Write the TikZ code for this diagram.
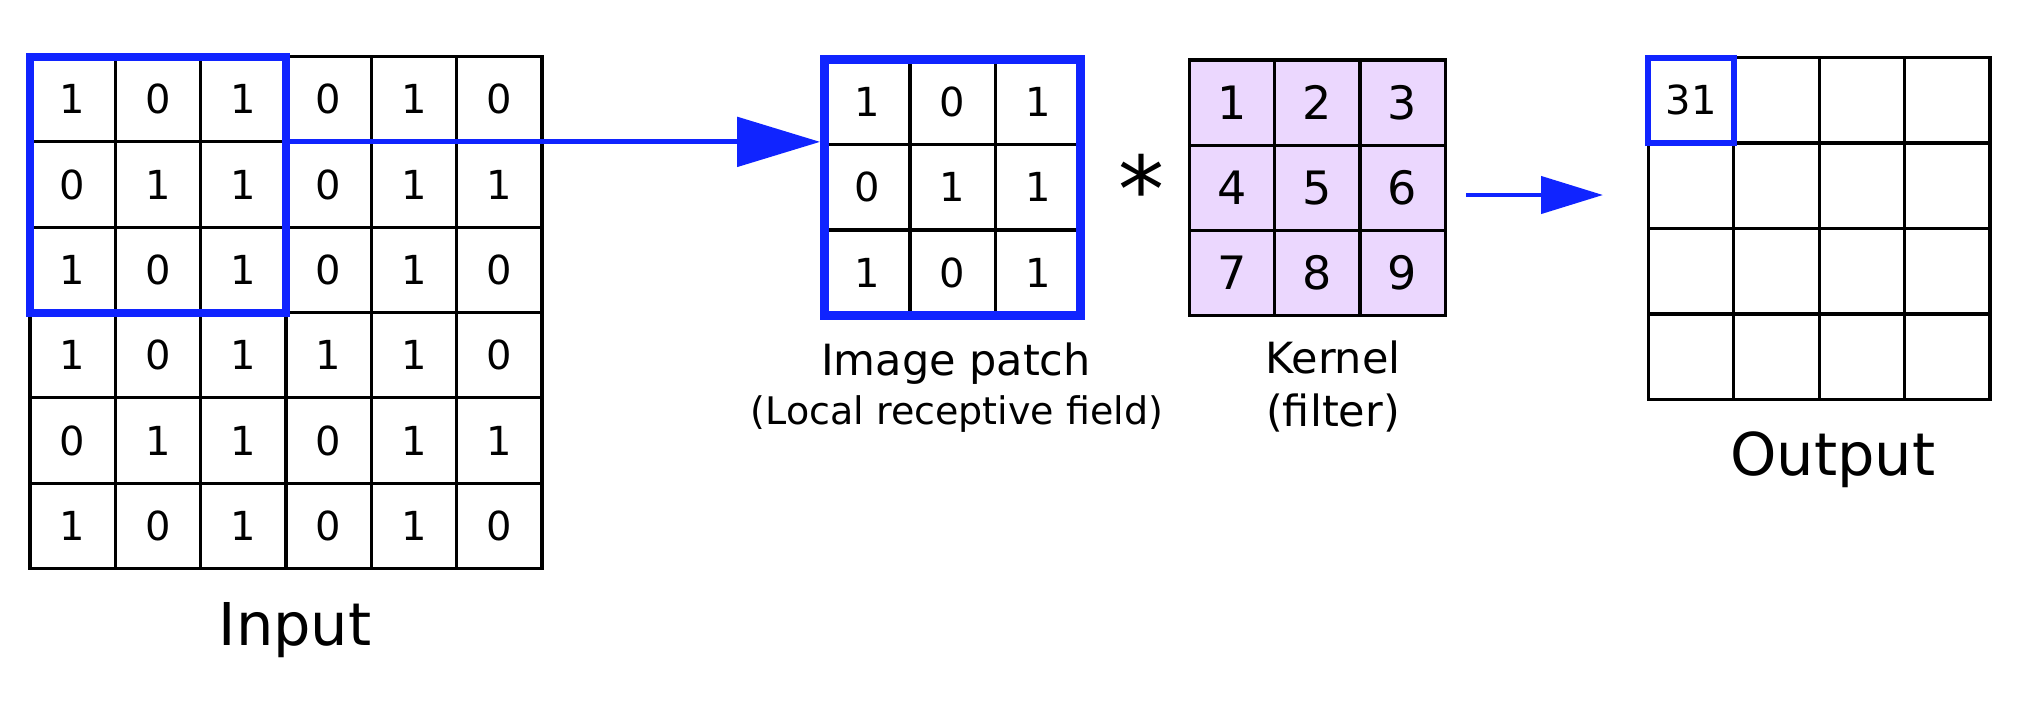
\documentclass[tikz,border=0pt]{standalone}
\usepackage{fontspec}
\setmainfont{DejaVu Sans}
\usetikzlibrary{arrows.meta, fit, positioning}

\definecolor{boxblue}{RGB}{16,36,255}
\definecolor{kernfill}{RGB}{235,215,254}

\tikzset{
  cell/.style={draw, line width=1.6pt, minimum size=42.67pt, inner sep=0pt, outer sep=0pt,
    font=\fontsize{20}{24}\selectfont},
  kcell/.style={cell, fill=kernfill, font=\fontsize{23}{27}\selectfont},
  bluebox/.style={draw=boxblue, line width=4pt, inner sep=0pt},
  bigarrow/.style={draw=boxblue, line width=2.6pt, -{Triangle[length=41.5pt,width=24.5pt]}},
  smallarrow/.style={draw=boxblue, line width=2.2pt, -{Triangle[length=31pt,width=18.5pt]}},
  bigtext/.style={anchor=base, font=\fontsize{29.5}{34}\selectfont},
  midtext/.style={anchor=base, font=\fontsize{21.5}{26}\selectfont},
  smalltext/.style={anchor=base, font=\fontsize{19}{23}\selectfont},
}

\begin{document}
\begin{tikzpicture}[x=0.5pt, y=-0.5pt]
  \useasboundingbox (0,0) rectangle (2024,702);

  % input 6x6
  \foreach \row [count=\r] in {{1,0,1,0,1,0},{0,1,1,0,1,1},{1,0,1,0,1,0},
                               {1,0,1,1,1,0},{0,1,1,0,1,1},{1,0,1,0,1,0}}
    \foreach \v [count=\c] in \row
      \node[cell] (in\r\c) at ({72.7+85.33*(\c-1)}, {99.2+85.33*(\r-1)}) {\v};
  \node[bluebox, fit=(in11)(in33)] (inbox) {};

  % image patch
  \foreach \row [count=\r] in {{1,0,1},{0,1,1},{1,0,1}}
    \foreach \v [count=\c] in \row
      \node[cell] (pa\r\c) at ({867.3+85.27*(\c-1)}, {102.1+85.27*(\r-1)}) {\v};
  \node[bluebox, line width=4.5pt, fit=(pa11)(pa33)] (pabox) {};

  % kernel
  \foreach \row [count=\r] in {{1,2,3},{4,5,6},{7,8,9}}
    \foreach \v [count=\c] in \row
      \node[kcell] (ke\r\c) at ({1232.4+85.1*(\c-1)}, {102.7+85.1*(\r-1)}) {\v};

  % output 4x4
  \foreach \r in {1,...,4}
    \foreach \c in {1,...,4}
      \node[cell] (out\r\c) at ({1691+85.43*(\c-1)}, {100.4+85.43*(\r-1)}) {};
  \node[font=\fontsize{20}{24}\selectfont] (outval) at (out11) {31};
  \node[bluebox, line width=3pt, fit=(out11)] (outbox) {};

  \draw[bigarrow] (inbox.east |- in13.south) -- (pabox.west |- in13.south);

  \node[anchor=base, font=\fontsize{46}{50}\selectfont] (conv) at (1141,222) {*};

  \coordinate (kerstart) at (1466,195);
  \coordinate (kerend) at (1603,195);
  \draw[smallarrow] (kerstart) -- (kerend);

  \node[bigtext] (inputlabel) at (295,645) {Input};
  \node[midtext] (patchlabel) at (956,375) {Image patch};
  \node[smalltext] (patchsub) at (957,424) {(Local receptive field)};
  \node[midtext] (kernlabel) at (1333,373) {Kernel};
  \node[midtext] (kernsub) at (1333,426) {(filter)};
  \node[bigtext] (outlabel) at (1833,475) {Output};
\end{tikzpicture}
\end{document}
